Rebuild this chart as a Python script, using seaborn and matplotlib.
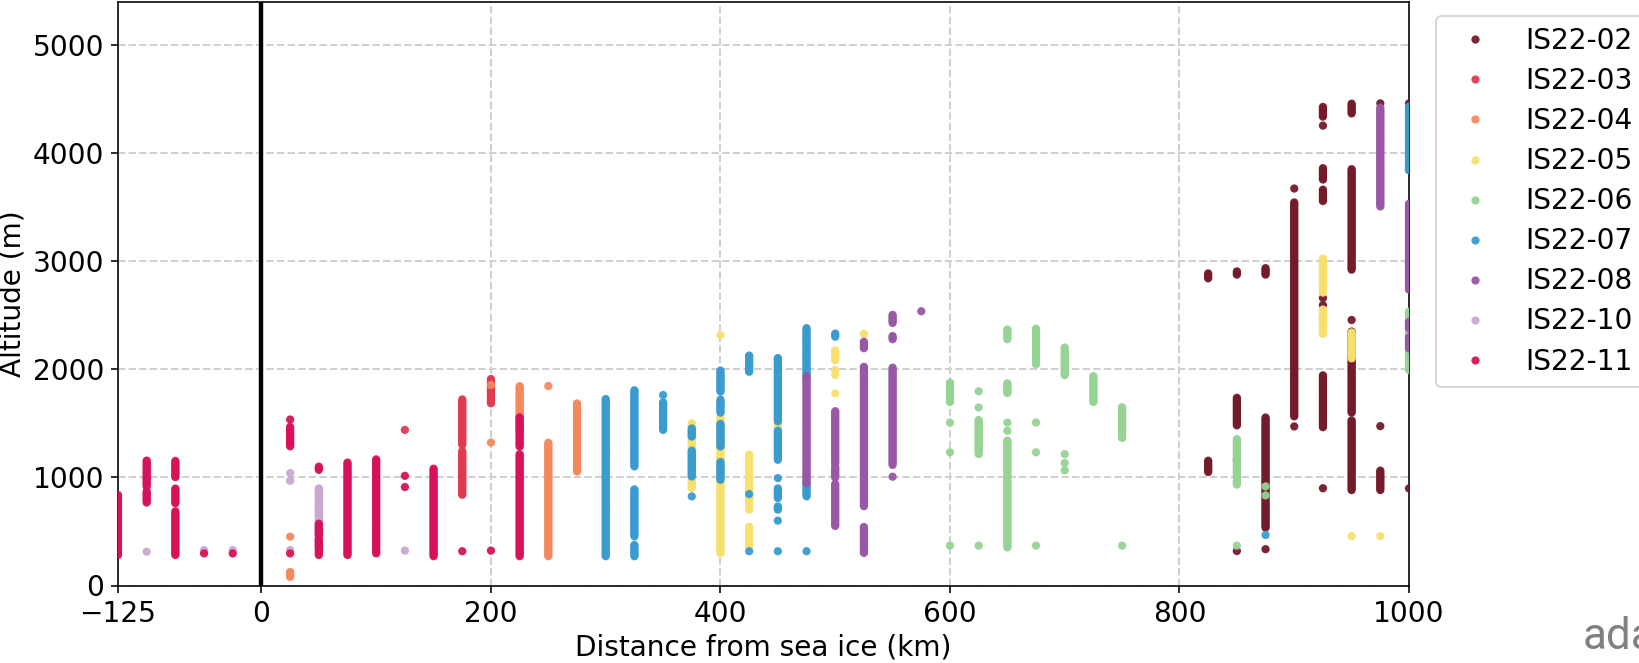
import numpy as np
import pandas as pd
import matplotlib
matplotlib.use("Agg")
import matplotlib.pyplot as plt
import seaborn as sns

# ---- data: vertical runs of samples (distance km, altitude low m, altitude high m)
flights = ["IS22-02", "IS22-03", "IS22-04", "IS22-05", "IS22-06",
           "IS22-07", "IS22-08", "IS22-10", "IS22-11"]

colors = ["#731a2b", "#e03a4f", "#f4895f", "#f8e06c", "#97d394",
          "#3a9bd0", "#9957a5", "#c9a8d3", "#d8125a"]

sample_step = 15  # altitude spacing of samples along a profile (m)

IS22_02 = [(825, 2843, 2893), (825, 1050, 1166),
           (850, 2877, 2920), (850, 1482, 1747), (850, 1166, 1166), (850, 319, 319),
           (875, 2877, 2943), (875, 535, 1565), (875, 336, 336),
           (900, 3674, 3674), (900, 1565, 3558), (900, 1472, 1472),
           (925, 4339, 4438), (925, 4256, 4256), (925, 3757, 3874), (925, 3558, 3674),
           (925, 2661, 2661), (925, 2595, 2595), (925, 2478, 2478), (925, 1465, 1947),
           (925, 900, 900),
           (950, 4369, 4462), (950, 2923, 3862), (950, 2457, 2457), (950, 1600, 2362),
           (950, 883, 1530),
           (975, 4462, 4462), (975, 1475, 1475), (975, 883, 1068),
           (1000, 4462, 4462), (1000, 3846, 3846), (1000, 898, 898)]

IS22_03 = [(125, 1440, 1440), (175, 1302, 1732), (175, 840, 1255), (200, 1686, 1917)]

IS22_04 = [(25, 452, 452), (25, 80, 127), (200, 1855, 1855), (200, 1323, 1323),
           (225, 1440, 1855), (250, 1846, 1846), (250, 271, 1332), (275, 1055, 1686)]

IS22_05 = [(375, 902, 1502), (400, 2317, 2317), (400, 300, 1563), (425, 702, 1225),
           (425, 363, 548), (450, 1455, 1502), (500, 2086, 2178), (500, 1994, 1994),
           (500, 1948, 1948), (500, 1778, 1778), (525, 2329, 2329),
           (925, 2711, 3026), (925, 2329, 2560), (950, 2102, 2349),
           (950, 457, 457), (975, 457, 457)]

IS22_06 = [(600, 1698, 1880), (600, 1508, 1508), (600, 1233, 1233), (600, 369, 369),
           (625, 1797, 1797), (625, 1648, 1648), (625, 1216, 1532), (625, 369, 369),
           (650, 2279, 2379), (650, 1781, 1880), (650, 1508, 1508), (650, 1432, 1432),
           (650, 352, 1349),
           (675, 2047, 2379), (675, 1508, 1508), (675, 1233, 1233), (675, 369, 369),
           (700, 1947, 2213), (700, 1216, 1216), (700, 1133, 1133), (700, 1066, 1066),
           (725, 1698, 1947),
           (750, 1365, 1664), (750, 369, 369),
           (850, 934, 1365), (850, 369, 369),
           (875, 917, 917), (875, 834, 834),
           (1000, 1994, 2534)]

IS22_07 = [(300, 271, 1732),
           (325, 1102, 1809), (325, 455, 902), (325, 271, 378),
           (350, 1763, 1763), (350, 1440, 1702),
           (375, 1378, 1455), (375, 1009, 1255), (375, 825, 825),
           (400, 1794, 1994), (400, 1600, 1732), (400, 1286, 1502), (400, 978, 1148),
           (425, 1978, 2132), (425, 846, 846), (425, 317, 317),
           (450, 1520, 2117), (450, 1163, 1440), (450, 994, 994), (450, 809, 902),
           (450, 702, 732), (450, 600, 600), (450, 317, 317),
           (475, 1932, 2394), (475, 825, 948), (475, 317, 317),
           (500, 2302, 2332),
           (875, 468, 468),
           (1000, 3846, 4431)]

IS22_08 = [(475, 948, 1948),
           (500, 1133, 1615), (500, 1000, 1116), (500, 551, 950),
           (525, 2196, 2262), (525, 734, 2030), (525, 302, 551),
           (550, 2430, 2510), (550, 2279, 2312), (550, 1116, 2030), (550, 1007, 1007),
           (575, 2538, 2538),
           (975, 3508, 4431),
           (1000, 2738, 3538), (1000, 2379, 2441), (1000, 2194, 2302)]

IS22_10 = [(-100, 313, 313), (-50, 328, 328), (-25, 328, 328), (25, 1040, 1040),
           (25, 969, 969), (25, 328, 328), (50, 359, 901), (125, 323, 323)]

IS22_11 = [(-125, 282, 839),
           (-100, 916, 1164), (-100, 768, 885),
           (-75, 1003, 1164), (-75, 762, 901), (-75, 282, 700),
           (-50, 297, 297), (-25, 297, 297),
           (25, 1536, 1536), (25, 1288, 1474), (25, 297, 297),
           (50, 1070, 1100), (50, 467, 576), (50, 282, 437),
           (75, 282, 1149), (100, 297, 1180),
           (125, 1015, 1015), (125, 911, 911),
           (150, 271, 1086),
           (175, 317, 317), (200, 323, 323),
           (225, 1286, 1563), (225, 271, 1225)]

runs = [IS22_02, IS22_03, IS22_04, IS22_05, IS22_06, IS22_07, IS22_08, IS22_10, IS22_11]

rows = []
for name, series in zip(flights, runs):
    for dist, lo, hi in series:
        alts = np.arange(lo, hi + 1, sample_step) if hi > lo else np.array([lo])
        for a in alts:
            rows.append((name, dist, a))
df = pd.DataFrame(rows, columns=["flight", "distance", "altitude"])

# ---- figure
DPI = 144
fig = plt.figure(figsize=(1639 / DPI, 663 / DPI), dpi=DPI)
ax = fig.add_axes([118 / 1639, 1 - 585.5 / 663, (1409 - 118) / 1639, (585.5 - 2) / 663])

palette = dict(zip(flights, colors))
sns.scatterplot(data=df, x="distance", y="altitude", hue="flight", hue_order=flights,
                palette=palette, s=17, linewidth=0, alpha=0.95, ax=ax, zorder=3)

ax.axvline(0, color="black", linewidth=2.2, zorder=4)
ax.set_xlim(-125, 1000)
ax.set_ylim(0, 5400)
ax.set_xticks([-125, 0, 200, 400, 600, 800, 1000])
ax.set_yticks([0, 1000, 2000, 3000, 4000, 5000])
ax.grid(True, linestyle="--", color="#d0d0d0", linewidth=1.0, zorder=0)
ax.set_axisbelow(True)
ax.tick_params(labelsize=14)
ax.set_xlabel("Distance from sea ice (km)", fontsize=14, labelpad=3)
ax.set_ylabel("Altitude (m)", fontsize=14, labelpad=3)

sns.move_legend(ax, "upper left", bbox_to_anchor=(1.01, 1), title=None,
                fontsize=14, labelspacing=0.43, frameon=True)

fig.text(1583 / 1639, 1 - 649 / 663, "ada", color="#808080", fontsize=22,
         family=["Roboto", "DejaVu Sans"])

fig.savefig("out.png", dpi=DPI)
